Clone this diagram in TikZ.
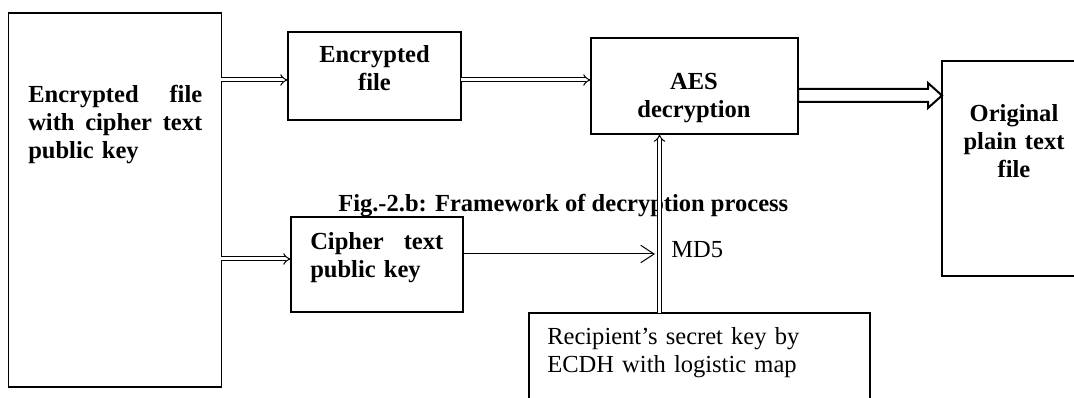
\documentclass[tikz,border=0pt]{standalone}
\usepackage{fontspec}
\setmainfont{Liberation Serif}
\usetikzlibrary{arrows.meta,calc}
\begin{document}
\begin{tikzpicture}[x=0.75pt,y=-0.75pt,
  box/.style={draw,line width=0.8pt,inner sep=0pt,outer sep=0pt,anchor=north west},
  btxt/.style={inner sep=0pt,font=\fontsize{18.4}{21}\selectfont\bfseries},
  rtxt/.style={inner sep=0pt,font=\fontsize{18.4}{21}\selectfont},
  dbl/.style={double,line width=0.75pt,double distance=2.25pt,-{Implies}},
  thin/.style={line width=0.75pt,-{Straight Barb[length=10pt,width=13pt,line width=0.75pt]}},
  blockarrow/.style={line width=1.5pt,line join=miter}]
\useasboundingbox (0,0) rectangle (1074,398);
\clip (0,0) rectangle (1074,398);
% caption
\node[btxt,anchor=base west] (cap) at (338,212) {Fig.-2.b: Framework of decryption process};
% boxes
\node[box,minimum width=159.4pt,minimum height=280.5pt] (left) at (8.5,13) {};
\node[box,minimum width=129.75pt,minimum height=66pt] (enc) at (288,32) {};
\node[box,minimum width=155.25pt,minimum height=72pt] (aes) at (591,38) {};
\node[box,minimum width=150pt,minimum height=161.25pt] (orig) at (942,61) {};
\node[box,minimum width=129pt,minimum height=71.25pt] (ciph) at (291,217) {};
\node[box,minimum width=255.75pt,minimum height=112.5pt] (rec) at (529,313) {};
% texts
\node[btxt,anchor=base west,text width=130.5pt,align=left] (lefttxt) at (28,103)
  {Encrypted\hfill file\\with\hfill cipher\hfill text\\public key};
\node[btxt,anchor=base,text width=120pt,align=center] (enctxt) at (374.5,63) {Encrypted\\file};
\node[btxt,anchor=base,text width=140pt,align=center] (aestxt) at (694,90) {AES\\decryption};
\node[btxt,anchor=base,text width=100pt,align=center] (origtxt) at (1014,122) {Original\\plain text\\file};
\node[btxt,anchor=base west,text width=99.75pt,align=left] (ciphtxt) at (310,250)
  {Cipher\hfill text\\public key};
\node[rtxt,anchor=base west] (md5) at (671,258) {MD5};
\node[rtxt,anchor=base west,text width=240pt,align=left] (rectxt) at (547,345)
  {Recipient’s secret key by\\ECDH with logistic map};
% connectors
\coordinate (y1) at (0,80);
\coordinate (y2) at (0,259);
\coordinate (y3) at (0,254);
\coordinate (vx) at (659.5,0);
\coordinate (ta) at (0,95.5);
\draw[dbl] (left.east|-y1) -- (enc.west|-y1);
\draw[dbl] (enc.east|-y1) -- (aes.west|-y1);
\draw[dbl] (left.east|-y2) -- (ciph.west|-y2);
\draw[dbl] (rec.north-|vx) -- (aes.south-|vx);
\coordinate (md5in) at ($(y3-|vx)+(-4.5,0)$);
\draw[thin] (ciph.east|-y3) -- (md5in);
\draw[blockarrow] ($(aes.east|-ta)+(0,-6.5)$) -- ($(orig.west|-ta)+(-14,-6.5)$)
  -- ($(orig.west|-ta)+(-14,-12.5)$) -- (orig.west|-ta)
  -- ($(orig.west|-ta)+(-14,12.5)$) -- ($(orig.west|-ta)+(-14,6.5)$)
  -- ($(aes.east|-ta)+(0,6.5)$) -- cycle;
\end{tikzpicture}
\end{document}
